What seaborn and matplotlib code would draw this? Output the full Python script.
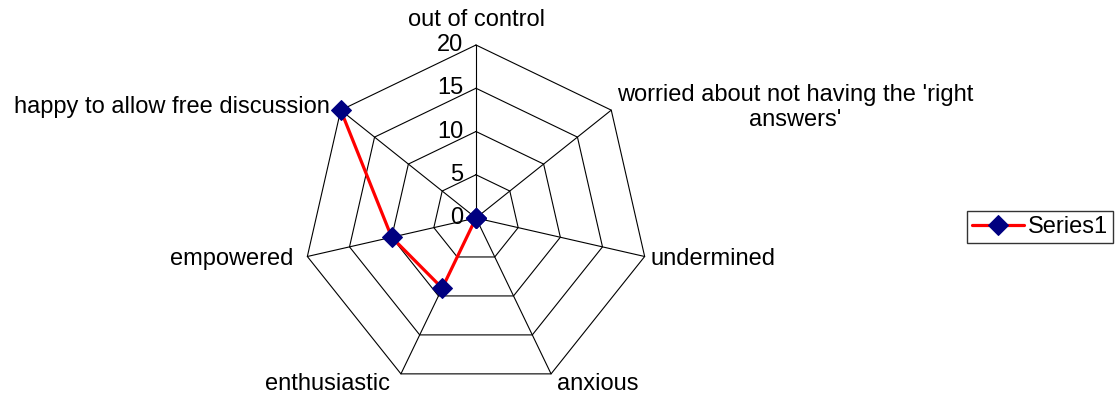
import numpy as np
import pandas as pd
import matplotlib
matplotlib.use("Agg")
import matplotlib.pyplot as plt
import seaborn as sns

categories = ["out of control",
              "worried about not having the 'right\nanswers'",
              "undermined", "anxious", "enthusiastic", "empowered",
              "happy to allow free discussion"]
values = [0, 0, 0, 0, 9, 10, 20]
ring_ticks = [0, 5, 10, 15, 20]
series_name = "Series1"

sns.set_theme(style="white")
plt.rcParams['font.family'] = ['Liberation Sans', 'DejaVu Sans']
plt.rcParams['text.color'] = 'black'

W, H = 1119, 394
fig = plt.figure(figsize=(W / 100, H / 100), dpi=100)
cx, cy, R = 476, 218, 173
ax = fig.add_axes([(cx - R) / W, (H - cy - R) / H, 2 * R / W, 2 * R / H], projection='polar')
ax.set_theta_zero_location('N')
ax.set_theta_direction(-1)
ax.set_ylim(0, ring_ticks[-1])
ax.grid(False)
ax.spines['polar'].set_visible(False)
ax.set_xticks([])
ax.set_yticks([])
ax.patch.set_alpha(0)

n = len(categories)
angles = np.arange(n) * 2 * np.pi / n
closed = np.append(angles, angles[0])

# polygon rings
for t in ring_ticks[1:]:
    ax.plot(closed, [t] * (n + 1), color='black', lw=0.8, clip_on=False, zorder=1)
# spokes
for a in angles:
    ax.plot([a, a], [0, ring_ticks[-1]], color='black', lw=0.8, clip_on=False, zorder=1)

# ring labels
for t in ring_ticks:
    ax.annotate(str(t), xy=(0, t), xytext=(-9, 0), textcoords='offset points',
                ha='right', va='center', fontsize=17, color='black')

# category labels
label_cfg = [
    dict(xytext=(0, 10), ha='center', va='bottom'),
    dict(xytext=(4, 2), ha='left', va='center'),
    dict(xytext=(4, -2), ha='left', va='center'),
    dict(xytext=(4, -7), ha='left', va='center'),
    dict(xytext=(-8, -7), ha='right', va='center'),
    dict(xytext=(-10, -2), ha='right', va='center'),
    dict(xytext=(-8, 2), ha='right', va='center'),
]
for a, lab, cfg in zip(angles, categories, label_cfg):
    ax.annotate(lab, xy=(a, ring_ticks[-1]), textcoords='offset points',
                fontsize=17, color='black', multialignment='center',
                linespacing=1.15, annotation_clip=False, **cfg)

df = pd.DataFrame({"theta": closed, "r": values + [values[0]]})
sns.lineplot(data=df, x="theta", y="r", sort=False, ax=ax, color='red', lw=2.3,
             marker='D', markersize=10, markerfacecolor='#000080',
             markeredgecolor='#000080', label=series_name, clip_on=False, zorder=3,
             legend=False)
ax.set_xlabel("")
ax.set_ylabel("")

handles, labels = ax.get_legend_handles_labels()
leg = fig.legend(handles, labels, loc='center left',
                 bbox_to_anchor=(967 / W, 1 - 227 / H), fontsize=17,
                 frameon=True, fancybox=False, edgecolor='black',
                 handlelength=2.2, handletextpad=0.2, borderpad=0.2,
                 borderaxespad=0, labelcolor='black')
leg.get_frame().set_linewidth(1.0)

fig.savefig("out.png", dpi=100)
